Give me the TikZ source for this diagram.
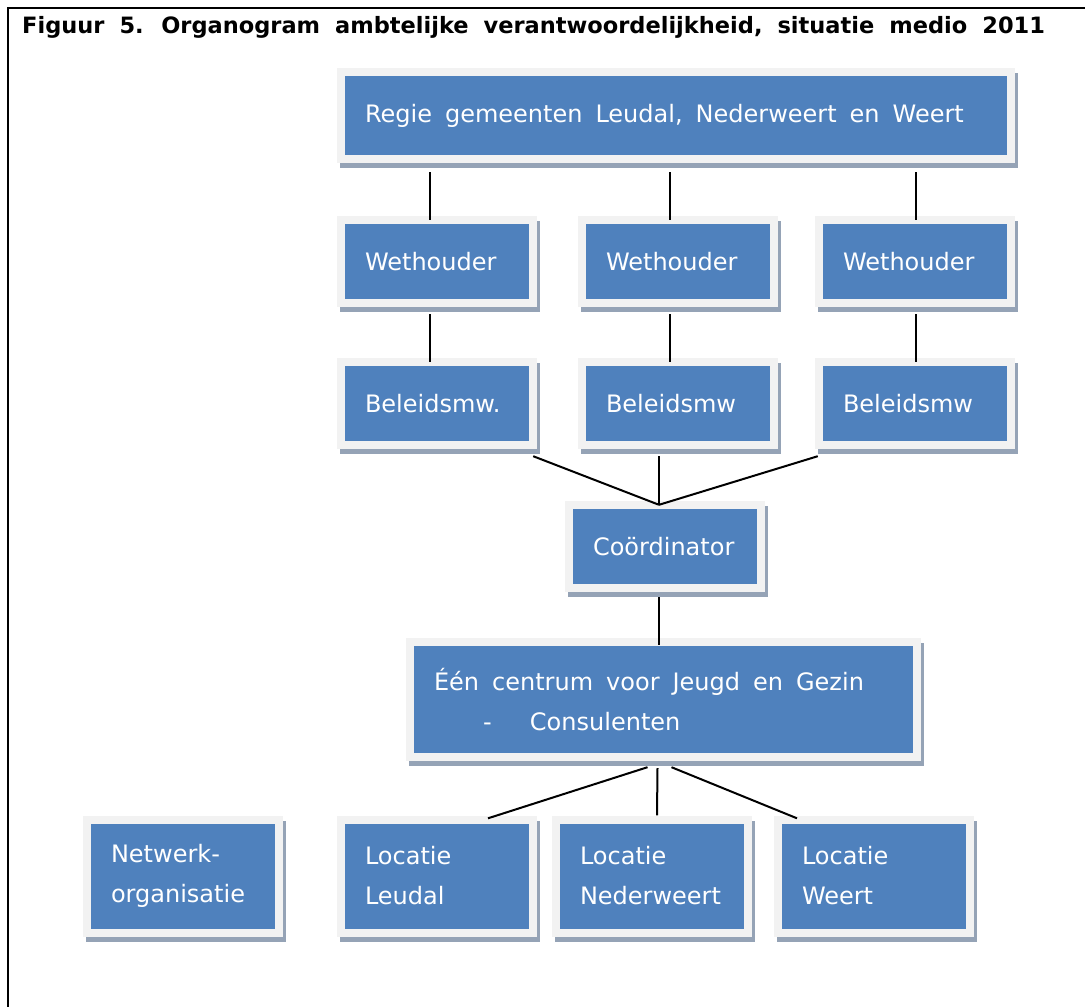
\documentclass[tikz,border=0pt]{standalone}
\usepackage{fontspec}
\setmainfont{DejaVu Sans}
\usetikzlibrary{shadows}
\definecolor{boxBlue}{HTML}{4F81BD}
\definecolor{boxRim}{HTML}{F2F2F2}
\definecolor{boxShade}{HTML}{95A3B6}
\newcommand\boxSpace{\spaceskip 13pt plus 2pt minus 1pt\relax}
\newcommand\titleFont{\bfseries\fontsize{22.5}{24}\selectfont\spaceskip 15pt\relax}
\begin{document}
\begin{tikzpicture}
[x=1pt,y=-1pt,
  lineDecorate/.style={-,line width=2pt},%
  nodeDecorate/.style={shape=rectangle,fill=boxRim,inner xsep=28pt,inner ysep=0pt,
    text=white,align=left,font=\fontsize{24}{40}\selectfont,
    execute at begin node=\boxSpace,
    text width=#1,minimum height=91pt,
    path picture={\fill[boxBlue] ([shift={(8pt,8pt)}]path picture bounding box.south west)
      rectangle ([shift={(-8pt,-8pt)}]path picture bounding box.north east);},
    drop shadow={shadow xshift=3pt,shadow yshift=-5pt,fill=boxShade,opacity=1}},%
  nodeDecorate/.default=144pt]
\useasboundingbox (0,0) rectangle (1085,1007);
%% frame and title
\draw[line width=2.4pt] (8,1007) -- (8,8) -- (1085,8);
\node (title) [anchor=base west,inner sep=0pt,font=\titleFont] at (22,33)
  {Figuur 5. Organogram ambtelijke verantwoordelijkheid, situatie medio 2011};
%% nodes or vertices
\node (regie) at (676,115.5) [nodeDecorate=622pt,minimum height=95pt]
  {Regie gemeenten Leudal, Nederweert en Weert};
\foreach \nodename/\x/\y/\txt in {
  weth1/437/261.5/Wethouder, weth2/678/261.5/Wethouder, weth3/915/261.5/Wethouder,
  bel1/437/403.5/Beleidsmw., bel2/678/403.5/Beleidsmw, bel3/915/403.5/Beleidsmw,
  coord/665/546.5/Coördinator}
{
  \node (\nodename) at (\x,\y) [nodeDecorate] {\txt};
}
\node (cjg) at (663.5,699.5) [nodeDecorate=459pt,minimum height=123pt]
  {Één centrum voor Jeugd en Gezin\\\hspace*{49pt}\makebox[47pt][l]{-}Consulenten};
\foreach \nodename/\x/\txt in {
  netw/183/{Netwerk-\\organisatie}, loc1/437/{Locatie\\Leudal},
  loc2/652/{Locatie\\Nederweert}, loc3/874/{Locatie\\Weert}}
{
  \node (\nodename) at (\x,876) [nodeDecorate,minimum height=121pt] {\txt};
}
%% edges or lines
\path (regie.south) ++(0,9) coordinate (regieFoot);
\foreach \i/\dx in {1/-7,2/-8,3/1}
{
  \draw[lineDecorate] ([xshift=\dx pt]regieFoot -| weth\i.north) -- ([xshift=\dx pt,yshift=-4pt]weth\i.north);
  \draw[lineDecorate] ([xshift=\dx pt,yshift=-7pt]weth\i.south) -- ([xshift=\dx pt,yshift=-4pt]bel\i.north);
}
\coordinate (join) at ([xshift=-6pt,yshift=-4pt]coord.north);
\path (bel2.south) ++(0,7) coordinate (belFoot);
\draw[lineDecorate] ([xshift=-4pt,yshift=-7pt]bel1.south east) -- (join);
\draw[lineDecorate] (join |- belFoot) -- (join);
\draw[lineDecorate] ([xshift=3pt,yshift=-7pt]bel3.south west) -- (join);
\draw[lineDecorate] ([xshift=-6pt,yshift=-5pt]coord.south) -- ++(0,48);
\draw[lineDecorate] ([xshift=-16pt,yshift=-6pt]cjg.south) -- ([xshift=51pt,yshift=-3pt]loc1.north);
\draw[lineDecorate] ([xshift=-6pt,yshift=-7pt]cjg.south) -- ([xshift=5pt]loc2.north);
\draw[lineDecorate] ([xshift=8pt,yshift=-6pt]cjg.south) -- ([xshift=-77pt,yshift=-3pt]loc3.north);
\end{tikzpicture}
\end{document}
